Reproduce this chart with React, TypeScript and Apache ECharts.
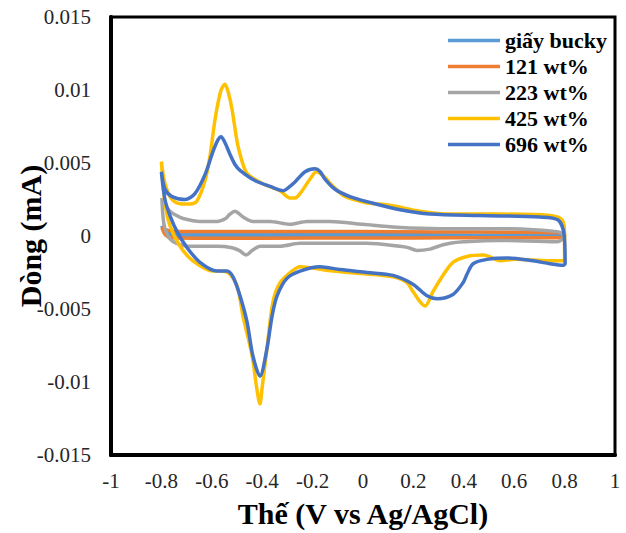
import React, { useEffect, useRef } from "react";
import * as echarts from "echarts";

// Series names (legend)
const seriesNames = ["giấy bucky", "121 wt%", "223 wt%", "425 wt%", "696 wt%"];
const seriesColors = ["#5B9BD5", "#ED7D31", "#A5A5A5", "#FFC000", "#4472C4"];

// Axis settings
const xRange = [-1, 1];
const xStep = 0.2;
const yRange = [-0.015, 0.015];
const yStep = 0.005;

// CV loops: [potential (V), current (mA)], anodic branch then cathodic branch
const buckyLoop: number[][] = [
  [-0.798, 0.0007], [-0.78, 0.0003], [-0.76, 0.00013], [-0.5, 0.0001], [0, 0.0001], [0.5, 0.00005], [0.8, 0.0],
  [0.7, -0.00002], [0.3, -0.00003], [-0.3, -0.00004], [-0.76, -0.00006], [-0.785, 0.0002], [-0.798, 0.0007],
];

const wt121Loop: number[][] = [
  [-0.798, 0.0006], [-0.78, 0.00042], [-0.75, 0.00032], [-0.6, 0.0003], [-0.3, 0.0003], [0, 0.0003],
  [0.3, 0.00028], [0.6, 0.00026], [0.78, 0.00022], [0.8, 0.0],
  [0.78, -0.00012], [0.5, -0.00012], [0.2, -0.00013], [-0.2, -0.00014], [-0.6, -0.00015],
  [-0.76, -0.00012], [-0.785, 0.0001], [-0.798, 0.0006],
];

const wt223Loop: number[][] = [
  [-0.798, 0.0026], [-0.785, 0.0021], [-0.766, 0.0017], [-0.74, 0.0014], [-0.714, 0.0012], [-0.647, 0.001],
  [-0.579, 0.001], [-0.545, 0.0012], [-0.528, 0.0015], [-0.508, 0.0017], [-0.49, 0.0015], [-0.476, 0.0013],
  [-0.437, 0.001], [-0.369, 0.001], [-0.29, 0.0008], [-0.222, 0.001], [-0.131, 0.001], [0, 0.0008],
  [0.135, 0.0006], [0.306, 0.0005], [0.532, 0.0005], [0.77, 0.0003], [0.8, 0.0],
  [0.77, -0.0004], [0.532, -0.0003], [0.4, -0.0004], [0.345, -0.0005], [0.3, -0.0007], [0.266, -0.0009],
  [0.214, -0.001], [0.18, -0.0008], [0.147, -0.0007], [0.016, -0.0005], [-0.25, -0.0005], [-0.329, -0.0007],
  [-0.409, -0.0007], [-0.44, -0.001], [-0.464, -0.0013], [-0.49, -0.001], [-0.52, -0.0008], [-0.579, -0.0007],
  [-0.687, -0.0007], [-0.74, -0.0005], [-0.766, -0.0002], [-0.786, 0.0005], [-0.794, 0.0014], [-0.798, 0.0026],
];

const wt425Loop: number[][] = [
  [-0.8, 0.0051], [-0.786, 0.0036], [-0.758, 0.0025], [-0.72, 0.0022], [-0.687, 0.0022], [-0.659, 0.0024],
  [-0.627, 0.0038], [-0.607, 0.0055], [-0.587, 0.008], [-0.565, 0.0099], [-0.548, 0.0104], [-0.534, 0.0098],
  [-0.52, 0.0087], [-0.5, 0.0065], [-0.488, 0.0056], [-0.47, 0.0046], [-0.456, 0.0042], [-0.4, 0.0036],
  [-0.33, 0.0031], [-0.29, 0.0026], [-0.27, 0.0026], [-0.25, 0.0029], [-0.21, 0.0039], [-0.185, 0.0044],
  [-0.15, 0.004], [-0.13, 0.0036], [-0.071, 0.0027], [0.008, 0.0023], [0.107, 0.0021], [0.226, 0.0017],
  [0.345, 0.0015], [0.544, 0.0015], [0.742, 0.0014], [0.79, 0.0011], [0.8, 0.0001], [0.8, -0.0017],
  [0.74, -0.0017], [0.6, -0.0016], [0.544, -0.0017], [0.5, -0.0014], [0.476, -0.0013], [0.413, -0.0014],
  [0.357, -0.0018], [0.317, -0.0027], [0.278, -0.0038], [0.246, -0.0048], [0.198, -0.0038], [0.175, -0.0032],
  [0.119, -0.0028], [0.016, -0.0026], [-0.119, -0.0024], [-0.25, -0.0021], [-0.282, -0.0024], [-0.329, -0.0032],
  [-0.357, -0.0045], [-0.381, -0.0077], [-0.401, -0.0105], [-0.409, -0.0115], [-0.421, -0.0105], [-0.44, -0.0082],
  [-0.476, -0.0055], [-0.5, -0.0034], [-0.536, -0.0025], [-0.579, -0.0024], [-0.595, -0.0024], [-0.675, -0.0017],
  [-0.726, -0.0007], [-0.766, 0.0007], [-0.786, 0.0023], [-0.8, 0.0051],
];

const wt696Loop: number[][] = [
  [-0.8, 0.0044], [-0.786, 0.0032], [-0.758, 0.0027], [-0.706, 0.0025], [-0.667, 0.0029], [-0.627, 0.0042],
  [-0.595, 0.0058], [-0.575, 0.0066], [-0.563, 0.0068], [-0.548, 0.0064], [-0.528, 0.0056], [-0.508, 0.0049],
  [-0.488, 0.0045], [-0.429, 0.0038], [-0.369, 0.0034], [-0.317, 0.0031], [-0.29, 0.0034], [-0.27, 0.0037],
  [-0.23, 0.0044], [-0.19, 0.0046], [-0.17, 0.0044], [-0.151, 0.0039], [-0.111, 0.0032], [-0.052, 0.0027],
  [0.028, 0.0023], [0.147, 0.0018], [0.266, 0.0015], [0.464, 0.0014], [0.702, 0.0013], [0.774, 0.0011],
  [0.798, 0.0001], [0.802, -0.0019],
  [0.794, -0.002], [0.742, -0.0019], [0.675, -0.0017], [0.571, -0.0015], [0.492, -0.0016], [0.437, -0.0019],
  [0.413, -0.0026], [0.397, -0.0032], [0.357, -0.004], [0.294, -0.0043], [0.254, -0.0041], [0.198, -0.0033],
  [0.119, -0.0027], [0.016, -0.0025], [-0.091, -0.0023], [-0.171, -0.0021], [-0.25, -0.0024], [-0.302, -0.0029],
  [-0.341, -0.0041], [-0.361, -0.0055], [-0.381, -0.0077], [-0.409, -0.0096], [-0.437, -0.0082], [-0.46, -0.0059],
  [-0.488, -0.0041], [-0.516, -0.0028], [-0.54, -0.0024], [-0.579, -0.0024], [-0.647, -0.0018], [-0.698, -0.0008],
  [-0.738, 0.0003], [-0.766, 0.0014], [-0.786, 0.0025], [-0.8, 0.0044],
];

const loops = [buckyLoop, wt121Loop, wt223Loop, wt425Loop, wt696Loop];

const FONT = "'Liberation Serif', 'Times New Roman', serif";

export default function App() {
  const ref = useRef<HTMLDivElement>(null);
  useEffect(() => {
    if (!ref.current) return;
    const chart = echarts.init(ref.current, undefined, { renderer: "svg" });
    chart.setOption({
      animation: false,
      backgroundColor: "#ffffff",
      grid: {
        left: 111,
        right: 11,
        top: 17,
        bottom: 78,
        show: true,
        borderColor: "#000",
        borderWidth: 3,
        containLabel: false,
        outerBoundsMode: "none",
      },
      legend: {
        orient: "vertical",
        left: 443,
        top: 24,
        itemWidth: 52,
        itemHeight: 3.5,
        itemGap: 3,
        icon: "rect",
        data: seriesNames,
        textStyle: { fontFamily: FONT, fontWeight: "bold", fontSize: 22, color: "#000", lineHeight: 23 },
      },
      xAxis: {
        type: "value",
        min: xRange[0],
        max: xRange[1],
        interval: xStep,
        name: "Thế (V vs Ag/AgCl)",
        nameLocation: "middle",
        nameGap: 43,
        nameMoveOverlap: false,
        nameTextStyle: { fontFamily: FONT, fontWeight: "bold", fontSize: 30, color: "#000" },
        axisLine: { onZero: false, lineStyle: { color: "#000", width: 4 } },
        axisTick: { show: false },
        splitLine: { show: false },
        axisLabel: {
          fontFamily: FONT,
          fontSize: 21,
          color: "#262626",
          margin: 15,
          formatter: (v: number) => String(Math.round(v * 10) / 10),
        },
      },
      yAxis: {
        type: "value",
        min: yRange[0],
        max: yRange[1],
        interval: yStep,
        name: "Dòng (mA)",
        nameLocation: "middle",
        nameGap: 66,
        nameMoveOverlap: false,
        nameTextStyle: { fontFamily: FONT, fontWeight: "bold", fontSize: 30, color: "#000" },
        axisLine: { onZero: false, lineStyle: { color: "#000", width: 4 } },
        axisTick: { show: false },
        splitLine: { show: false },
        axisLabel: {
          fontFamily: FONT,
          fontSize: 21,
          color: "#262626",
          margin: 20,
          formatter: (v: number) => String(Math.round(v * 1000) / 1000),
        },
      },
      series: loops.map((d, i) => ({
        name: seriesNames[i],
        type: "line",
        data: d,
        showSymbol: false,
        symbol: "none",
        smooth: 0.3,
        color: seriesColors[i],
        itemStyle: { color: seriesColors[i] },
        lineStyle: { color: seriesColors[i], width: 3.5 },
      })),
    });
    return () => chart.dispose();
  }, []);
  return (
    <div
      ref={ref}
      style={{ position: "fixed", left: 0, top: 0, width: 626, height: 533 }}
    />
  );
}
